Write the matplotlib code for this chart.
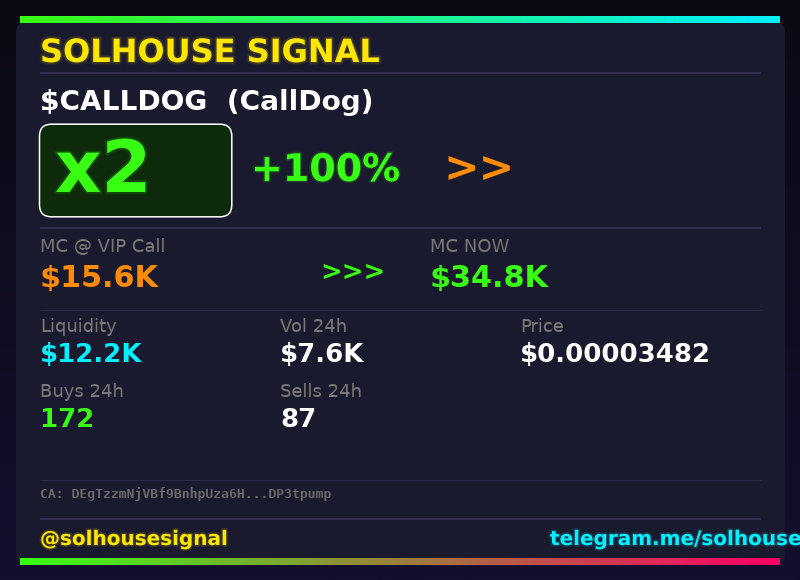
import numpy as np
import matplotlib
matplotlib.use("Agg")
import matplotlib.pyplot as plt
import matplotlib.patheffects as pe
from matplotlib.colors import LinearSegmentedColormap
from matplotlib.patches import FancyBboxPatch

plt.rcParams["text.hinting"] = "native"

brand = "SOLHOUSE SIGNAL"
ticker = "$CALLDOG  (CallDog)"
multiple = "x2"
gain = "+100%"
call_label, call_value = "MC @ VIP Call", "$15.6K"
now_label, now_value = "MC NOW", "$34.8K"
stat_labels = ["Liquidity", "Vol 24h", "Price", "Buys 24h", "Sells 24h"]
stat_values = ["$12.2K", "$7.6K", "$0.00003482", "172", "87"]
stat_colors = ["#00f0ff", "#ffffff", "#ffffff", "#39ff14", "#ffffff"]
contract = "CA: DEgTzzmNjVBf9BnhpUza6H...DP3tpump"
handle = "@solhousesignal"
link = "telegram.me/solhouse"

GREEN = "#39ff14"
ORANGE = "#ff8c00"
CYAN = "#00f0ff"
YELLOW = "#ffe600"
GREY = "#777777"
LINE = "#33304f"


def px(size):
    return size * 0.72


def glow(color, width):
    fx = []
    for w, a in [(width, 0.05), (width * 0.6, 0.1)]:
        fx.append(pe.Stroke(linewidth=w, foreground=color, alpha=a))
    fx.append(pe.Normal())
    return fx


def hbar(ax, x0, x1, y0, y1, colors):
    cmap = LinearSegmentedColormap.from_list("bar", colors)
    ax.imshow(np.linspace(0, 1, 256).reshape(1, -1), cmap=cmap, aspect="auto",
              extent=(x0, x1, y1, y0), zorder=3)


def label(ax, x, y, s, size, color, weight="bold", fx=None, family="DejaVu Sans"):
    t = ax.text(x, y, s, fontsize=px(size), color=color, fontweight=weight,
                va="baseline", ha="left", family=family, zorder=5)
    if fx:
        t.set_path_effects(fx)
    return t


fig = plt.figure(figsize=(8, 5.8), dpi=100)
ax = fig.add_axes([0, 0, 1, 1])

# background
bg = LinearSegmentedColormap.from_list("bg", ["#0a0a14", "#140f2d"])
ax.imshow(np.linspace(0, 1, 256).reshape(-1, 1), cmap=bg, aspect="auto",
          extent=(0, 800, 580, 0), zorder=0)

# card
ax.add_patch(FancyBboxPatch((16, 22), 769, 543, boxstyle="round,pad=0,rounding_size=10",
                            fc="#1a1a2e", ec="none", zorder=1))

hbar(ax, 20, 780, 16, 23, [GREEN, CYAN])
hbar(ax, 20, 780, 558, 565, [GREEN, "#ff0066"])

# divider lines
for y, lw, c in [(73, 2, LINE), (228, 2, LINE), (309.5, 1, "#2c2b45"),
                 (479.5, 1, "#2c2b45"), (519, 2, LINE)]:
    ax.plot([40, 761], [y, y], color=c, lw=lw * 0.72, solid_capstyle="butt", zorder=2)

label(ax, 40, 62, brand, 32, YELLOW, fx=glow(YELLOW, 4))
label(ax, 40, 110, ticker, 28, "#ffffff")

# multiplier box
ax.add_patch(FancyBboxPatch((39.5, 124.2), 192.3, 92.6, boxstyle="round,pad=0,rounding_size=12",
                            fc="#0d2b0a", ec="#ffffff", lw=1.1, zorder=2))
label(ax, 55, 192, multiple, 72, GREEN, fx=glow(GREEN, 4))
label(ax, 251, 181, gain, 38, GREEN, fx=glow(GREEN, 3))
label(ax, 443, 181, ">>", 42.5, ORANGE)

# market cap row
label(ax, 40, 252, call_label, 18, GREY, weight="normal")
label(ax, 40, 287, call_value, 30.2, ORANGE)
label(ax, 320, 280, ">>>", 26, GREEN)
label(ax, 430, 252, now_label, 18, GREY, weight="normal")
label(ax, 430, 287, now_value, 30.2, GREEN)

# stats grid
xs = [40, 280, 520, 40, 280]
label_ys = [332, 332, 332, 397, 397]
value_ys = [362, 362, 362, 427, 427]
for i in range(len(stat_labels)):
    label(ax, xs[i], label_ys[i], stat_labels[i], 18, GREY, weight="normal")
    label(ax, xs[i], value_ys[i], stat_values[i], 26, stat_colors[i])

label(ax, 40, 498, contract, 13, "#6b6b6b", family="DejaVu Sans Mono")
label(ax, 40, 545, handle, 20, YELLOW, fx=glow(YELLOW, 3))
label(ax, 550, 545, link, 20, CYAN, fx=glow(CYAN, 3))

ax.set_xlim(0, 800)
ax.set_ylim(580, 0)
ax.axis("off")
fig.savefig("out.png", dpi=100)
